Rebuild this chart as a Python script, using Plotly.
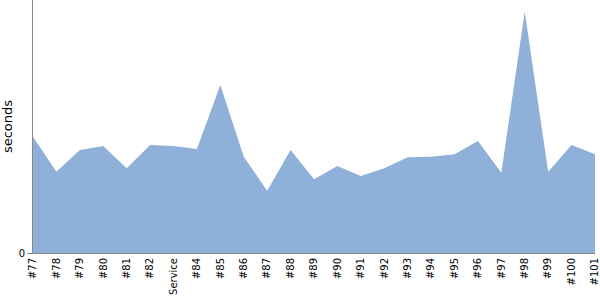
import plotly.graph_objects as go

categories = ["#77", "#78", "#79", "#80", "#81", "#82", "Service", "#84", "#85", "#86",
              "#87", "#88", "#89", "#90", "#91", "#92", "#93", "#94", "#95", "#96",
              "#97", "#98", "#99", "#100", "#101"]
seconds = [116.3, 81.3, 103, 107, 84.7, 108, 107, 104, 168, 96.3,
           62.3, 103, 73.7, 87, 77, 84.7, 95.7, 96.3, 98.7, 112,
           80.3, 241.3, 81.3, 108, 98.7]

fig = go.Figure()
fig.add_trace(go.Scatter(
    x=categories, y=seconds, mode="lines", fill="tozeroy",
    fillcolor="rgb(143,177,217)", line=dict(width=0, color="rgb(143,177,217)"),
    hoverinfo="x+y"))

fig.update_layout(
    width=600, height=300,
    margin=dict(l=33, r=5, t=0, b=47),
    paper_bgcolor="white", plot_bgcolor="white",
    showlegend=False,
    font=dict(family="DejaVu Sans", size=10, color="black"),
    xaxis=dict(type="category", range=[0, 24], tickangle=-90, showgrid=False,
               showline=True, linecolor="#888", linewidth=1, ticks="", zeroline=False,
               tickfont=dict(size=10, family="DejaVu Sans")),
    yaxis=dict(range=[0, 253], tickvals=[0], ticktext=["0"], showgrid=False,
               showline=True, linecolor="#888", linewidth=1, ticks="outside",
               ticklen=5, tickcolor="#888", zeroline=False,
               title=dict(text="seconds", font=dict(size=13, family="DejaVu Sans"), standoff=5),
               tickfont=dict(size=10, family="DejaVu Sans")),
)

fig.write_html("out.html")
